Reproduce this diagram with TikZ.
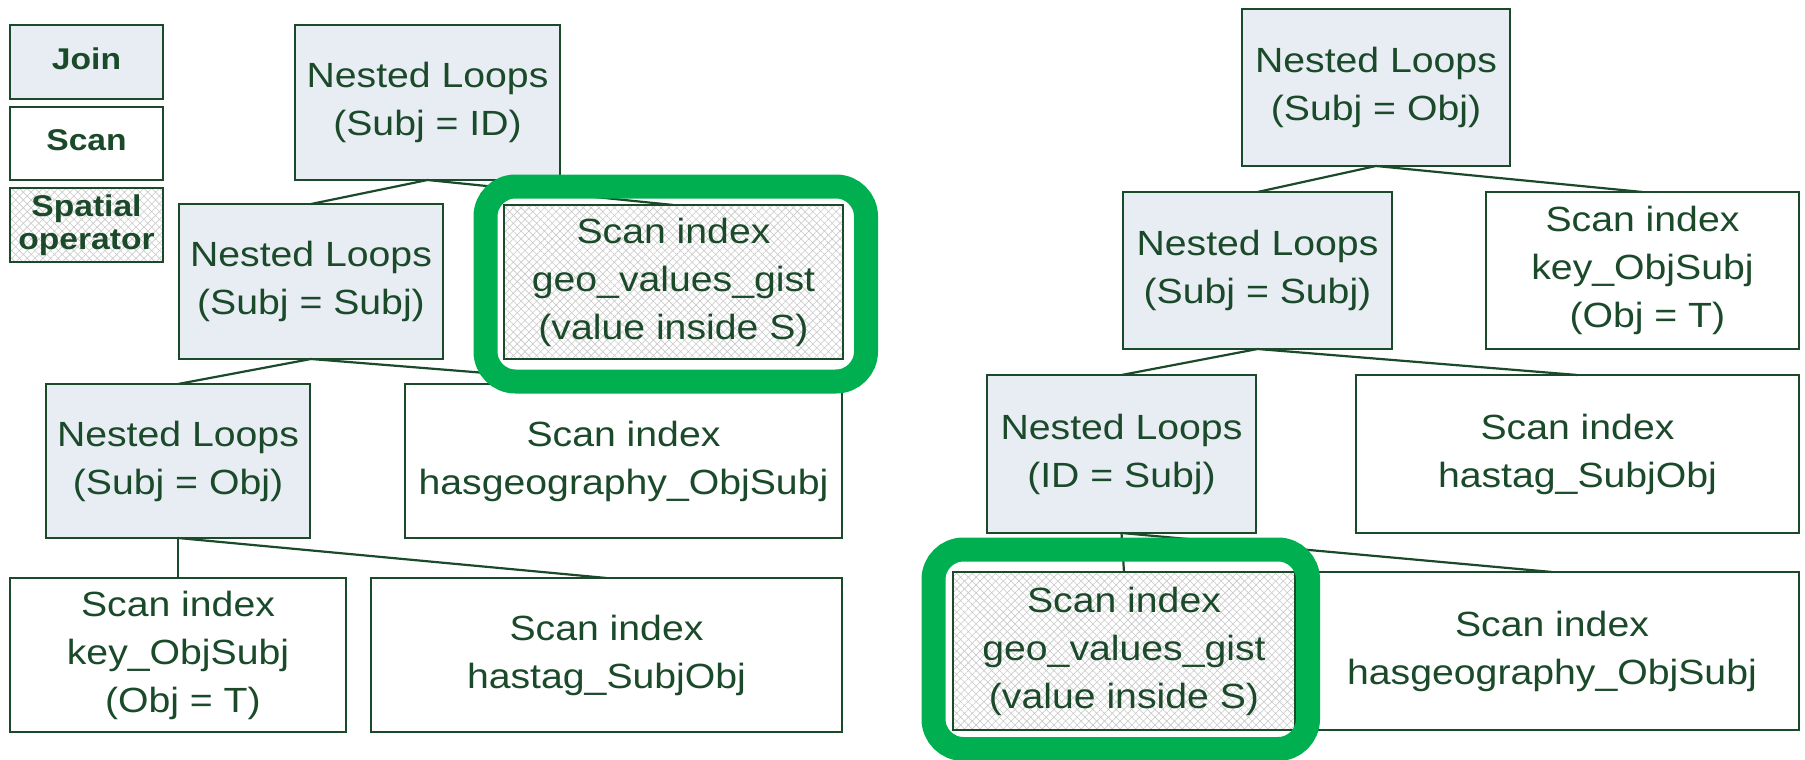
\documentclass[tikz,border=0pt]{standalone}
\usepackage{fontspec}
\setmainfont{Liberation Sans}[FakeStretch=1.12]
\usetikzlibrary{patterns.meta}

\definecolor{ink}{HTML}{1B4A2A}
\definecolor{joinfill}{HTML}{E8EDF4}
\definecolor{hatch}{HTML}{C9C9C9}
\definecolor{hlgreen}{HTML}{00B050}

\tikzset{
  plan/.style={draw=ink, line width=2.2pt, text=ink, inner sep=0pt, outer sep=0pt,
    align=center, font=\fontsize{35}{48}\selectfont},
  joinbox/.style={plan, fill=joinfill},
  scanbox/.style={plan, fill=white},
  spatialbox/.style={plan,
    preaction={fill=white},
    preaction={pattern={Lines[angle=45,distance=5.5pt,line width=0.6pt]}, pattern color=hatch},
    preaction={pattern={Lines[angle=-45,distance=5.5pt,line width=0.6pt]}, pattern color=hatch}},
  legend/.style={font=\bfseries\fontsize{30}{33}\selectfont},
  link/.style={draw=ink, line width=2.2pt},
  highlight/.style={draw=hlgreen, line width=24pt, rounded corners=30pt, inner sep=0pt, outer sep=0pt},
}

\begin{document}
\begin{tikzpicture}[x=1pt,y=-1pt]
\useasboundingbox (0,0) rectangle (1805,760);

% legend
\node[joinbox, legend, minimum width=153pt, minimum height=74pt] (kJoin) at (86.5,62) {Join\vphantom{p}};
\node[scanbox, legend, minimum width=153pt, minimum height=73pt] (kScan) at (86.5,143.5) {Scan\vphantom{p}};
\node[spatialbox, legend, minimum width=153pt, minimum height=74pt] (kSpatial) at (86.5,225) {Spatial\\operator};

% left plan
\node[joinbox, minimum width=265pt, minimum height=155pt] (L1) at (427.5,102.5) {Nested Loops\\(Subj = ID)};
\node[joinbox, minimum width=264pt, minimum height=155pt] (L2) at (311,281.5) {Nested Loops\\(Subj = Subj)};
\node[spatialbox, minimum width=339pt, minimum height=154pt] (Lgeo) at (673.5,282) {Scan index\\geo\_values\_gist\\(value inside S)};
\node[joinbox, minimum width=264pt, minimum height=154pt] (L3) at (178,461) {Nested Loops\\(Subj = Obj)};
\node[scanbox, minimum width=437pt, minimum height=154pt] (Lhasgeo) at (623.5,461) {Scan index\\hasgeography\_ObjSubj};
\node[scanbox, minimum width=336pt, minimum height=154pt] (Lkey) at (178,655) {Scan index\\key\_ObjSubj\\\hspace*{.278em}(Obj = T)};
\node[scanbox, minimum width=471pt, minimum height=154pt] (Lhastag) at (606.5,655) {Scan index\\hastag\_SubjObj};

% right plan
\node[joinbox, minimum width=268pt, minimum height=157pt] (R1) at (1376,87.5) {Nested Loops\\(Subj = Obj)};
\node[joinbox, minimum width=269pt, minimum height=157pt] (R2) at (1257.5,270.5) {Nested Loops\\(Subj = Subj)};
\node[scanbox, minimum width=313pt, minimum height=157pt] (Rkey) at (1642.5,270.5) {Scan index\\key\_ObjSubj\\\hspace*{.278em}(Obj = T)};
\node[joinbox, minimum width=269pt, minimum height=158pt] (R3) at (1121.5,454) {Nested Loops\\(ID = Subj)};
\node[scanbox, minimum width=443pt, minimum height=158pt] (Rhastag) at (1577.5,454) {Scan index\\hastag\_SubjObj};
\node[spatialbox, minimum width=342pt, minimum height=158pt] (Rgeo) at (1124,651) {Scan index\\geo\_values\_gist\\(value inside S)};
\node[scanbox, minimum width=494pt, minimum height=158pt] (Rhasgeo) at (1552,651) {Scan index\\hasgeography\_ObjSubj};

% tree edges, from each join to its two inputs
\draw[link] (L1.south) -- (L2.north);
\draw[link] (L1.south) -- (Lgeo.north);
\draw[link] (L2.south) -- (L3.north);
\draw[link] (L2.south) -- (Lhasgeo.north);
\draw[link] (L3.south) -- (Lkey.north);
\draw[link] (L3.south) -- (Lhastag.north);
\draw[link] (R1.south) -- (R2.north);
\draw[link] (R1.south) -- (Rkey.north);
\draw[link] (R2.south) -- (R3.north);
\draw[link] (R2.south) -- (Rhastag.north);
\draw[link] (R3.south) -- (Rgeo.north);
\draw[link] (R3.south) -- (Rhasgeo.north);

% green frames around the spatial scans
\node[highlight, minimum width=380.5pt, minimum height=195pt] (hlL) at (675.75,284) {};
\node[highlight, minimum width=374.5pt, minimum height=199.5pt] (hlR) at (1120.75,649.25) {};
\end{tikzpicture}
\end{document}
